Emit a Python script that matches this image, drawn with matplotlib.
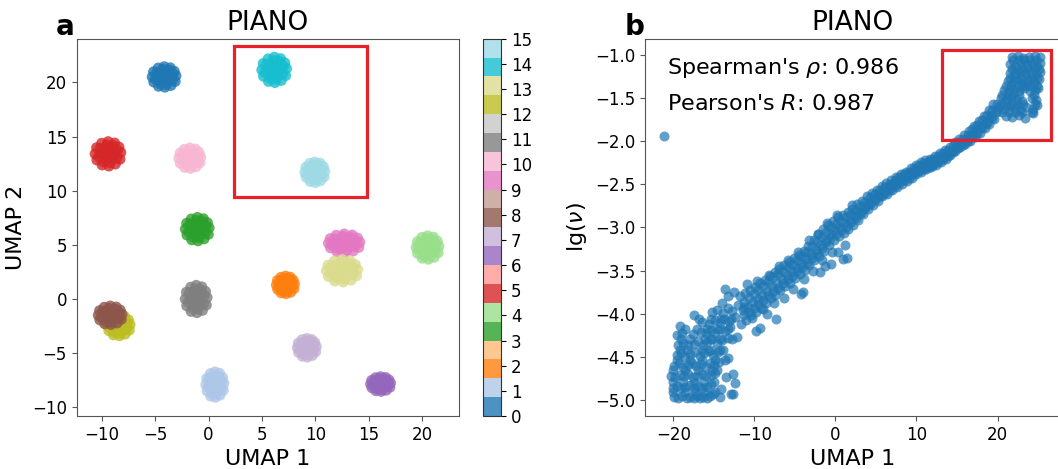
import numpy as np
import matplotlib
matplotlib.use("Agg")
import matplotlib.pyplot as plt
from matplotlib.patches import Rectangle

# ---- panel a: UMAP clusters (centres and half sizes) ----
labels = list(range(16))
cx = [-4.15, 0.6, 7.2, -1.05, 20.5, -9.4, 16.1, 9.2, -9.2, 12.7, -1.75, -1.15, -8.4, 12.5, 6.15, 9.95]
cy = [20.5, -7.9, 1.3, 6.45, 4.75, 13.4, -7.85, -4.5, -1.5, 5.15, 13.0, 0.0, -2.45, 2.6, 21.15, 11.7]
half_w = [1.25, 0.95, 0.95, 1.25, 1.2, 1.35, 1.05, 1.0, 1.25, 1.65, 1.15, 1.15, 1.2, 1.65, 1.3, 1.05]
half_h = [1.05, 1.3, 0.9, 1.2, 1.2, 1.25, 0.75, 0.95, 0.95, 0.95, 1.05, 1.4, 1.05, 1.15, 1.3, 1.05]
draw_order = [0, 1, 2, 3, 4, 5, 6, 7, 12, 8, 9, 13, 10, 11, 14, 15]

# rough blob outline used for every cluster (unit offsets)
blob_dx = [0.0, 0.45, 0.2, -0.25, -0.45, -0.2, 0.25, 0.88, 0.75, 0.45, 0.0, -0.45,
           -0.8, -0.9, -0.78, -0.42, 0.05, 0.5, 0.82,
           0.65, 0.35, -0.1, -0.55, -0.66, -0.3, 0.15, 0.6, 0.22, -0.1, -0.2, 0.08]
blob_dy = [0.0, 0.05, 0.4, 0.38, -0.02, -0.4, -0.38, 0.1, 0.5, 0.8, 0.9, 0.78,
           0.45, 0.0, -0.45, -0.82, -0.9, -0.75, -0.4,
           0.25, 0.6, 0.66, 0.4, -0.2, -0.6, -0.66, -0.3, 0.1, 0.22, -0.12, -0.22]

# ---- panel b: lg(nu) vs UMAP 1 ----
low_pts = [
    (-19.9, -4.97), (-19.4, -4.98), (-18.9, -4.96), (-18.3, -4.98), (-17.9, -4.97), (-17.5, -4.98),
    (-17.1, -4.96), (-16.7, -4.98), (-16.3, -4.97), (-15.9, -4.98), (-15.5, -4.96), (-15.1, -4.93),
    (-14.2, -4.97), (-12.9, -4.94), (-12.6, -4.94),
    (-20.1, -4.86), (-19.6, -4.84), (-19.1, -4.87), (-18.5, -4.85), (-18.0, -4.83), (-17.4, -4.86),
    (-16.9, -4.84), (-16.4, -4.87), (-15.9, -4.85), (-15.4, -4.82), (-14.1, -4.88), (-12.4, -4.81),
    (-20.3, -4.72), (-19.8, -4.74), (-19.2, -4.71), (-18.7, -4.73), (-18.2, -4.70), (-17.6, -4.74),
    (-17.1, -4.72), (-16.5, -4.70), (-16.0, -4.73), (-15.3, -4.71), (-14.8, -4.69), (-13.5, -4.74),
    (-12.6, -4.70),
    (-19.9, -4.61), (-19.3, -4.58), (-18.8, -4.62), (-18.2, -4.60), (-17.7, -4.57), (-17.2, -4.61),
    (-16.6, -4.59), (-16.0, -4.62), (-15.5, -4.58), (-15.0, -4.60), (-14.4, -4.56), (-13.2, -4.52),
    (-19.6, -4.48), (-19.1, -4.46), (-18.5, -4.50), (-17.9, -4.47), (-17.3, -4.45), (-16.7, -4.49),
    (-16.2, -4.46), (-15.6, -4.44), (-15.1, -4.48), (-14.5, -4.45), (-13.9, -4.42),
    (-19.4, -4.36), (-18.8, -4.34), (-18.2, -4.37), (-17.4, -4.35), (-16.9, -4.32), (-16.3, -4.36),
    (-15.8, -4.33), (-15.2, -4.30), (-14.6, -4.34), (-14.0, -4.31), (-13.3, -4.28), (-12.1, -4.27),
    (-19.5, -4.25), (-18.9, -4.22), (-17.6, -4.24), (-16.6, -4.21), (-16.0, -4.23), (-15.4, -4.19),
    (-14.8, -4.22), (-14.2, -4.18), (-13.6, -4.20), (-13.0, -4.16),
    (-19.2, -4.14), (-16.4, -4.10), (-15.6, -4.12), (-14.9, -4.08), (-14.3, -4.11), (-13.7, -4.06),
    (-13.1, -4.09), (-12.4, -4.04),
    (-17.5, -4.02), (-15.2, -3.98), (-14.6, -3.96), (-13.9, -3.99), (-13.3, -3.93), (-12.7, -3.97),
    (-12.0, -3.90), (-11.3, -3.92),
]

low_fill = [
    (-20.0, -4.91), (-18.6, -4.91), (-17.3, -4.91), (-16.1, -4.91), (-14.9, -4.91),
    (-20.0, -4.79), (-18.8, -4.79), (-17.5, -4.79), (-16.2, -4.79), (-15.0, -4.79),
    (-20.1, -4.66), (-18.5, -4.66), (-16.9, -4.66), (-15.2, -4.66), (-14.6, -4.66),
    (-19.6, -4.54), (-18.0, -4.54), (-16.4, -4.54), (-14.8, -4.54), (-13.6, -4.54),
    (-19.2, -4.42), (-18.3, -4.42), (-16.5, -4.42), (-15.4, -4.42), (-14.2, -4.42),
    (-19.0, -4.30), (-17.9, -4.30), (-16.1, -4.30), (-15.5, -4.30), (-14.3, -4.30), (-12.8, -4.30),
    (-18.5, -4.18), (-17.1, -4.18), (-15.9, -4.18), (-14.6, -4.18), (-13.3, -4.18),
    (-16.8, -4.06), (-15.4, -4.06), (-14.1, -4.06), (-12.9, -4.06),
]

band_pts = [
    (-11.6, -4.12), (-11.4, -3.96), (-11.8, -3.80), (-11.0, -4.08), (-10.8, -3.92), (-11.1, -3.76),
    (-10.9, -3.66), (-10.4, -4.02), (-10.2, -3.87), (-10.5, -3.73), (-9.8, -3.98), (-9.6, -3.83),
    (-9.9, -3.69), (-9.8, -4.20), (-9.2, -3.93), (-9.0, -3.79), (-9.3, -3.65), (-9.3, -4.17),
    (-8.6, -3.88), (-8.4, -3.74), (-8.7, -3.61), (-8.5, -4.00), (-8.0, -3.82), (-7.8, -3.68),
    (-8.1, -3.56), (-7.4, -3.78), (-7.2, -3.64), (-7.5, -3.52), (-7.3, -4.06), (-6.8, -3.73),
    (-6.6, -3.60), (-6.9, -3.48), (-6.2, -3.68), (-6.0, -3.55), (-6.3, -3.44), (-5.6, -3.64),
    (-5.4, -3.51), (-5.7, -3.40), (-5.0, -3.59), (-4.8, -3.47), (-5.1, -3.36), (-4.4, -3.54),
    (-4.2, -3.42), (-4.5, -3.32), (-4.3, -3.77), (-4.0, -3.75), (-3.8, -3.49), (-3.6, -3.37),
    (-3.9, -3.27), (-3.2, -3.44), (-3.0, -3.31), (-3.3, -3.15), (-2.6, -3.38), (-2.4, -3.26),
    (-2.7, -3.14), (-2.0, -3.33), (-1.8, -3.20), (-2.1, -3.08), (-1.9, -3.52), (-1.4, -3.27),
    (-1.2, -3.14), (-1.5, -3.02), (-1.3, -3.45), (-0.8, -3.20), (-0.6, -3.08), (-0.9, -2.97),
    (-0.6, -3.42), (-0.2, -3.14), (0.0, -3.03), (-0.3, -2.92), (0.4, -3.10), (0.6, -2.99),
    (0.3, -2.88), (0.35, -3.28), (1.0, -3.06), (1.2, -2.95), (0.9, -2.85), (0.9, -3.37),
    (1.6, -3.02), (1.8, -2.92), (1.5, -2.82), (1.4, -3.35), (2.2, -2.97), (2.4, -2.87),
    (2.1, -2.78), (2.8, -2.91), (3.0, -2.82), (2.7, -2.73), (3.4, -2.84), (3.6, -2.76),
    (3.3, -2.69), (4.0, -2.78), (4.2, -2.71), (3.9, -2.64), (4.6, -2.74), (4.8, -2.67),
    (4.5, -2.60), (5.2, -2.69), (5.4, -2.62), (5.1, -2.56), (5.8, -2.64), (6.0, -2.58),
    (5.7, -2.52), (6.4, -2.61), (6.6, -2.54), (6.3, -2.48), (7.0, -2.57), (7.2, -2.50),
    (6.9, -2.45), (7.6, -2.53), (7.8, -2.46), (7.5, -2.41), (8.2, -2.49), (8.4, -2.43),
    (8.1, -2.38), (8.8, -2.46), (9.0, -2.40), (8.7, -2.35), (9.4, -2.42), (9.6, -2.36),
    (9.3, -2.31), (10.0, -2.38), (10.2, -2.32), (9.9, -2.27), (10.6, -2.35), (10.8, -2.29),
    (10.5, -2.24), (11.2, -2.32), (11.4, -2.27), (11.1, -2.22), (11.8, -2.30), (12.0, -2.25),
    (11.7, -2.20), (12.4, -2.27), (12.6, -2.22), (12.3, -2.17), (13.0, -2.24), (13.2, -2.19),
    (12.9, -2.14), (13.6, -2.20), (13.8, -2.15), (13.5, -2.10), (14.2, -2.16), (14.4, -2.11),
    (14.1, -2.06), (14.8, -2.11), (15.0, -2.06), (14.7, -2.01), (15.4, -2.07), (15.6, -2.02),
    (15.3, -1.97), (16.0, -2.03), (16.2, -1.98), (15.9, -1.93), (16.6, -1.99), (16.8, -1.93),
    (16.5, -1.88), (17.2, -1.95), (17.4, -1.88), (17.1, -1.82), (17.8, -1.90), (18.0, -1.83),
    (17.7, -1.76), (18.4, -1.85), (18.6, -1.77), (18.3, -1.70), (19.0, -1.80), (19.2, -1.71),
    (18.9, -1.63), (19.6, -1.74), (19.8, -1.65), (19.5, -1.57),
]

band_fill = [
    (-11.3, -4.02), (-11.3, -3.86), (-10.7, -3.98), (-10.7, -3.82), (-10.1, -3.93), (-10.1, -3.77),
    (-9.5, -3.89), (-9.5, -3.73), (-8.9, -3.84), (-8.9, -3.68), (-8.3, -3.79), (-8.3, -3.63),
    (-7.7, -3.74), (-7.7, -3.58), (-7.1, -3.70), (-7.1, -3.54), (-6.5, -3.65), (-6.5, -3.50),
    (-5.9, -3.60), (-5.9, -3.46), (-5.3, -3.56), (-5.3, -3.42), (-4.7, -3.51), (-4.7, -3.38),
    (-4.1, -3.46), (-4.1, -3.33), (-3.5, -3.41), (-3.5, -3.28), (-2.9, -3.35), (-2.9, -3.22),
    (-2.3, -3.30), (-2.3, -3.17), (-1.7, -3.24), (-1.7, -3.11), (-1.1, -3.17), (-1.1, -3.05),
    (-0.5, -3.11), (-0.5, -3.00), (0.1, -3.07), (0.1, -2.96), (0.7, -3.03), (0.7, -2.92),
    (1.3, -2.99), (1.3, -2.88), (1.9, -2.94), (1.9, -2.84), (2.5, -2.89), (2.5, -2.80),
    (3.1, -2.83), (3.1, -2.75), (3.7, -2.77), (3.7, -2.70), (4.3, -2.73), (4.3, -2.65),
    (4.9, -2.68), (4.9, -2.61), (5.5, -2.64), (5.5, -2.57), (6.1, -2.60), (6.1, -2.53),
    (6.7, -2.56), (6.7, -2.49), (7.3, -2.52), (7.3, -2.45), (7.9, -2.48), (7.9, -2.41),
    (8.5, -2.45), (8.5, -2.38), (9.1, -2.42), (9.1, -2.35), (9.7, -2.38), (9.7, -2.31),
    (10.3, -2.34), (10.3, -2.27), (10.9, -2.32), (10.9, -2.25), (11.5, -2.30), (11.5, -2.23),
    (12.1, -2.27), (12.1, -2.20), (12.7, -2.24), (12.7, -2.17), (13.3, -2.21), (13.3, -2.14),
    (13.9, -2.17), (13.9, -2.10), (14.5, -2.12), (14.5, -2.05), (15.1, -2.08), (15.1, -2.01),
    (15.7, -2.04), (15.7, -1.97), (16.3, -1.99), (16.3, -1.92), (16.9, -1.95), (16.9, -1.86),
    (17.5, -1.90), (17.5, -1.81), (18.1, -1.85), (18.1, -1.75), (18.7, -1.79), (18.7, -1.69),
    (19.3, -1.73), (19.3, -1.63), (19.9, -1.66), (19.9, -1.56),
]

# looser points on both sides of the lower part of the band
band_edge = [
    (-14.0, -3.88), (-13.6, -3.72), (-13.2, -3.80), (-12.5, -3.75), (-10.3, -4.05), (-9.7, -3.62),
    (-8.9, -3.95), (-8.2, -3.55), (-7.6, -3.88), (-6.9, -3.45), (-6.4, -3.82), (-5.8, -3.38),
    (-5.2, -3.72), (-4.6, -3.28), (-3.9, -3.60), (-3.4, -3.22), (-2.8, -3.50), (-2.2, -3.08),
    (-1.6, -3.38), (-1.0, -2.95), (-0.4, -3.28), (0.2, -2.86), (1.2, -3.20), (2.0, -2.74),
]

top_pts = [
    (21.8, -1.02), (22.5, -1.01), (23.2, -1.03), (23.9, -1.02), (24.6, -1.01), (25.2, -1.02),
    (21.6, -1.10), (22.2, -1.12), (22.9, -1.09), (23.6, -1.11), (24.2, -1.10), (24.9, -1.12), (25.3, -1.09),
    (21.5, -1.20), (22.1, -1.22), (22.8, -1.19), (23.4, -1.21), (24.1, -1.20), (24.7, -1.22), (25.2, -1.19),
    (21.3, -1.30), (21.9, -1.31), (22.5, -1.29), (23.2, -1.32), (23.9, -1.30), (24.5, -1.31), (25.1, -1.28),
    (20.8, -1.40), (21.4, -1.42), (22.0, -1.39), (22.7, -1.41), (23.3, -1.38), (24.0, -1.42), (24.6, -1.40),
    (25.0, -1.38),
    (20.4, -1.50), (21.0, -1.52), (21.7, -1.49), (22.3, -1.51), (23.0, -1.53), (24.2, -1.50), (24.8, -1.52),
    (20.2, -1.60), (20.9, -1.62), (21.5, -1.59), (22.1, -1.61), (22.8, -1.63), (23.5, -1.60), (24.4, -1.62),
    (24.9, -1.58),
    (21.1, -1.70), (21.8, -1.72), (22.6, -1.69), (23.4, -1.73), (24.4, -1.67),
]

top_fill = [
    (21.9, -1.06), (22.6, -1.06), (23.3, -1.06), (24.0, -1.06), (24.7, -1.06),
    (21.8, -1.16), (22.5, -1.16), (23.1, -1.16), (23.8, -1.16), (24.5, -1.16), (25.1, -1.16),
    (21.6, -1.26), (22.3, -1.26), (23.0, -1.26), (23.6, -1.26), (24.3, -1.26), (24.9, -1.26),
    (21.1, -1.36), (21.7, -1.36), (22.4, -1.36), (23.0, -1.36), (23.7, -1.36), (24.3, -1.36), (24.9, -1.36),
    (20.6, -1.46), (21.3, -1.46), (21.9, -1.46), (22.6, -1.46), (24.5, -1.46),
    (20.5, -1.56), (21.2, -1.56), (21.9, -1.56), (22.5, -1.56), (23.2, -1.56), (24.6, -1.56),
    (20.6, -1.66), (21.4, -1.66), (22.2, -1.66), (23.0, -1.66), (24.2, -1.66),
]

outlier_pts = [(-21.2, -1.94)]

spearman_rho = 0.986
pearson_r = 0.987


def cluster_points():
    xs, ys, cs = [], [], []
    for k in draw_order:
        for dx, dy in zip(blob_dx, blob_dy):
            xs.append(cx[k] + dx * half_w[k])
            ys.append(cy[k] + dy * half_h[k])
            cs.append(labels[k])
    return xs, ys, cs


fig = plt.figure(figsize=(10.58, 4.69), dpi=100)
spine_col = "#555555"

# panel a
ax1 = fig.add_axes([0.0725, 0.113, 0.361, 0.8045])
xs, ys, cs = cluster_points()
sc = ax1.scatter(xs, ys, c=cs, cmap="tab20", vmin=0, vmax=15, s=62, alpha=0.8, linewidths=0)
ax1.set_xlim(-12.34, 23.4)
ax1.set_ylim(-10.8, 24.03)
ax1.set_xticks([-10, -5, 0, 5, 10, 15, 20])
ax1.set_yticks([-10, -5, 0, 5, 10, 15, 20])
ax1.set_xlabel("UMAP 1", fontsize=16)
ax1.set_ylabel("UMAP 2", fontsize=16)
ax1.set_title("PIANO", fontsize=19)
ax1.add_patch(Rectangle((2.4, 9.45), 12.4, 13.95, fill=False, edgecolor="#e8202a", linewidth=2.3))

cax = fig.add_axes([0.4562, 0.113, 0.0176, 0.8045])
cb = fig.colorbar(sc, cax=cax, ticks=labels)
cb.ax.tick_params(labelsize=12)
cb.outline.set_edgecolor("#333333")

# panel b
ax2 = fig.add_axes([0.6096, 0.113, 0.3922, 0.8045])
all_pts = low_pts + low_fill + band_pts + band_fill + band_edge + top_pts + top_fill + outlier_pts
px = [p[0] for p in all_pts]
py = [p[1] for p in all_pts]
ax2.scatter(px, py, s=52, color="#1f77b4", alpha=0.7, linewidths=0)
ax2.set_xlim(-23.5, 27.7)
ax2.set_ylim(-5.19, -0.807)
ax2.set_xticks([-20, -10, 0, 10, 20])
ax2.set_yticks([-5.0, -4.5, -4.0, -3.5, -3.0, -2.5, -2.0, -1.5, -1.0])
ax2.set_yticklabels([f"{v:.1f}".replace("-", "\u2212") for v in ax2.get_yticks()])
ax2.set_xlabel("UMAP 1", fontsize=16)
ax2.set_ylabel(r"lg($\nu$)", fontsize=16)
ax2.set_title("PIANO", fontsize=19)
ax2.text(-20.8, -1.15, f"Spearman's $\\rho$: {spearman_rho}", fontsize=16, va="center", ha="left")
ax2.text(-20.8, -1.57, f"Pearson's $R$: {pearson_r}", fontsize=16, va="center", ha="left")
ax2.add_patch(Rectangle((13.1, -1.98), 13.5, 1.04, fill=False, edgecolor="#e8202a", linewidth=2.3))

for ax in (ax1, ax2):
    ax.tick_params(labelsize=12, color=spine_col)
    for sp in ax.spines.values():
        sp.set_edgecolor(spine_col)

fig.text(0.062, 0.925, "a", fontsize=20, fontweight="bold", ha="center", va="baseline")
fig.text(0.6, 0.925, "b", fontsize=20, fontweight="bold", ha="center", va="baseline")

fig.savefig("out.png", dpi=100)
